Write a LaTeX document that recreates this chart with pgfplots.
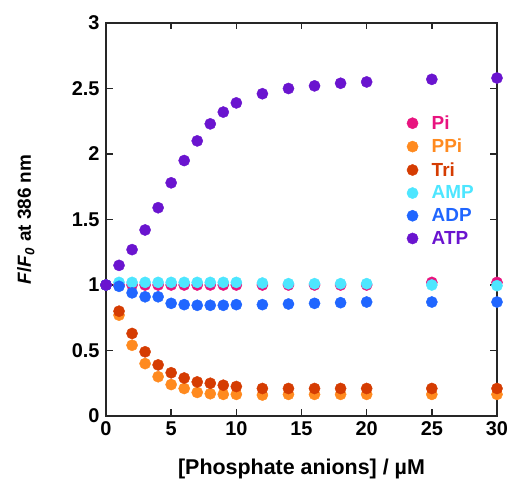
\documentclass[border=0pt]{standalone}
\usepackage{fontspec}
\setmainfont{Liberation Sans}
\usepackage{pgfplots}
\pgfplotsset{compat=1.18}
\definecolor{cpi}{HTML}{E8147F}
\definecolor{cppi}{HTML}{FF8A1F}
\definecolor{ctri}{HTML}{D53C02}
\definecolor{camp}{HTML}{4DE6FF}
\definecolor{cadp}{HTML}{2066FF}
\definecolor{catp}{HTML}{6A14CF}

\pgfplotstableread{
x    pi    ppi   tri   amp   adp   atp
0    1.00  1.00  1.00  1.00  1.00  1.00
1    1.00  0.77  0.80  1.02  0.99  1.15
2    1.00  0.54  0.63  1.02  0.94  1.27
3    1.00  0.40  0.49  1.02  0.91  1.42
4    1.00  0.30  0.39  1.02  0.91  1.59
5    1.00  0.24  0.33  1.02  0.86  1.78
6    1.00  0.21  0.29  1.02  0.85  1.95
7    1.00  0.18  0.26  1.02  0.845 2.10
8    1.00  0.17  0.25  1.02  0.845 2.23
9    1.00  0.165 0.235 1.02  0.845 2.32
10   1.00  0.165 0.225 1.02  0.85  2.39
12   1.00  0.16  0.21  1.015 0.85  2.46
14   1.00  0.165 0.21  1.01  0.855 2.50
16   1.00  0.165 0.21  1.01  0.86  2.52
18   1.00  0.165 0.21  1.01  0.865 2.54
20   1.00  0.165 0.21  1.01  0.87  2.55
25   1.02  0.165 0.21  1.00  0.87  2.57
30   1.02  0.165 0.21  0.995 0.87  2.58
}\datatable

\begin{document}
\begin{tikzpicture}
\path[use as bounding box] (-106bp,-70bp) rectangle (404bp,416bp);
\begin{axis}[
  scale only axis, width=391bp, height=393bp,
  xmin=0, xmax=30, ymin=0, ymax=3,
  xtick={0,5,...,30}, ytick={0,0.5,...,3},
  tick align=inside, tick pos=both,
  major tick length=6.5bp,
  axis line style={line width=1.6bp, black!85}, every tick/.style={line width=1.5bp, black!85},
  tick label style={font=\fontsize{20}{24}\selectfont\bfseries},
  /pgf/number format/assume math mode=true,
  xticklabel style={yshift=-2bp},
  yticklabel style={xshift=-3bp},
  xlabel={[Phosphate anions] / µM},
  ylabel={\textit{F}/\textit{F}\textsubscript{\textit{0}} at 386 nm},
  xlabel style={font=\fontsize{21.5}{25}\selectfont\bfseries, at={(axis description cs:0.5,-0.135)}, anchor=center},
  ylabel style={font=\fontsize{19}{23}\selectfont\bfseries, at={(axis description cs:-0.205,0.5)}, anchor=center},
  clip=false,
  legend cell align=left,
  legend image code/.code={\draw[#1] plot coordinates {(0bp,0bp)}; \path (-6bp,0bp) (17bp,0bp);},
  legend style={draw=none, fill=none, at={(0.76,0.775)}, anchor=north west,
    font=\fontsize{19}{23}\selectfont\bfseries, row sep=4.2bp},
]
\addplot[only marks, mark=*, mark size=5.6bp, color=cpi] table[x=x, y=pi] {\datatable};
\addlegendentry{\textcolor{cpi}{Pi}}
\addplot[only marks, mark=*, mark size=5.6bp, color=cppi] table[x=x, y=ppi] {\datatable};
\addlegendentry{\textcolor{cppi}{PPi}}
\addplot[only marks, mark=*, mark size=5.6bp, color=ctri] table[x=x, y=tri] {\datatable};
\addlegendentry{\textcolor{ctri}{Tri}}
\addplot[only marks, mark=*, mark size=5.6bp, color=camp] table[x=x, y=amp] {\datatable};
\addlegendentry{\textcolor{camp}{AMP}}
\addplot[only marks, mark=*, mark size=5.6bp, color=cadp] table[x=x, y=adp] {\datatable};
\addlegendentry{\textcolor{cadp}{ADP}}
\addplot[only marks, mark=*, mark size=5.6bp, color=catp] table[x=x, y=atp] {\datatable};
\addlegendentry{\textcolor{catp}{ATP}}
\end{axis}
\end{tikzpicture}
\end{document}
